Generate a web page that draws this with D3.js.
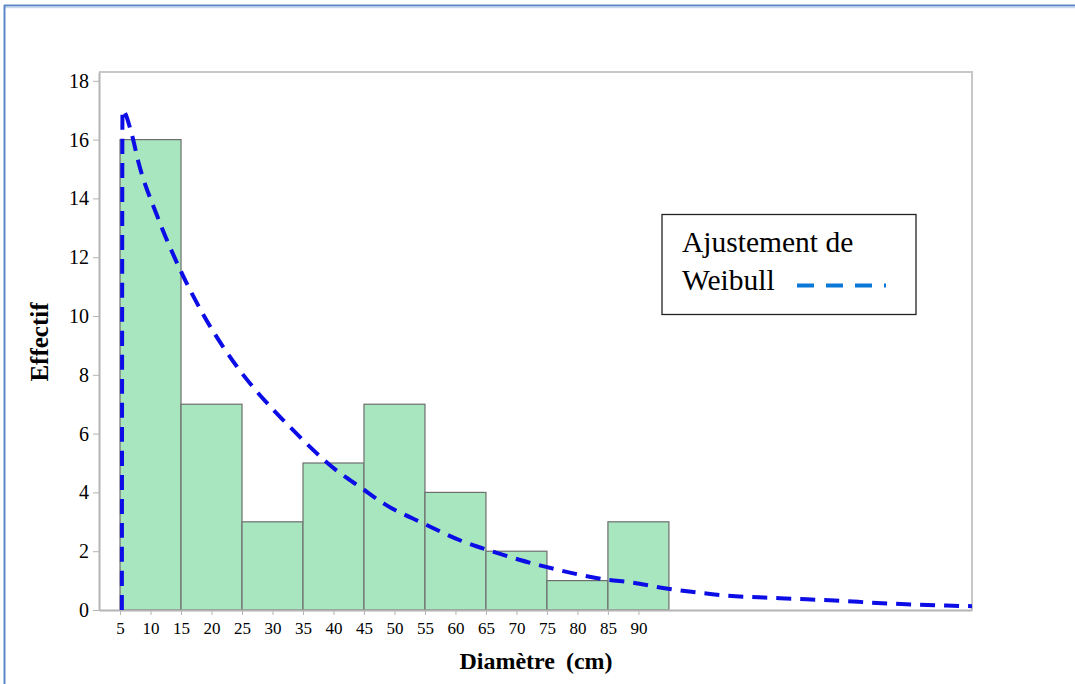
<!DOCTYPE html>
<html>
<head>
<meta charset="utf-8">
<script src="https://cdn.jsdelivr.net/npm/d3@7"></script>
<style>
  body { margin: 0; background: #fff; }
  svg { display: block; }
  svg text { font-family: "Liberation Serif", "Times New Roman", serif; }
</style>
</head>
<body>
<svg width="1075" height="684"></svg>
<script>
// histogram bins (diameter classes, cm) and counts
const binStarts = [5, 15, 25, 35, 45, 55, 65, 75, 85];
const binWidth = 10;
const counts = [16, 7, 3, 5, 7, 4, 2, 1, 3];

// Weibull fit curve
const weibullX = [5.3, 5.4, 6.9, 8.0, 11.1, 14.8, 19.2, 24.1, 30.4, 31.8, 40.8, 44.6, 48.4, 54.7, 61.6, 65.9, 70.6, 75.2, 79.9, 84.5, 89.1, 94.0, 98.7, 103.9, 113.2, 121.4, 131.2, 140.5, 144.7];
const weibullY = [0, 17.0, 16.2, 15.25, 13.4, 11.6, 9.85, 8.3, 6.75, 6.45, 4.7, 4.15, 3.6, 2.95, 2.3, 2.0, 1.7, 1.45, 1.22, 1.04, 0.93, 0.75, 0.62, 0.5, 0.4, 0.33, 0.22, 0.15, 0.13];

const xTicks = d3.range(5, 95, 5);
const yTicks = d3.range(0, 20, 2);

const serif = "'Liberation Serif', 'Times New Roman', serif";
const svg = d3.select("svg");

// outer frame (blue)
svg.append("line").attr("x1", 4).attr("x2", 1075).attr("y1", 5.5).attr("y2", 5.5)
    .attr("stroke", "#5b87c8").attr("stroke-width", 2);
svg.append("line").attr("x1", 4).attr("x2", 1075).attr("y1", 7.5).attr("y2", 7.5)
    .attr("stroke", "#c9d8ee").attr("stroke-width", 1.5);
svg.append("line").attr("x1", 4.5).attr("x2", 4.5).attr("y1", 5).attr("y2", 684)
    .attr("stroke", "#5b87c8").attr("stroke-width", 2);

const plotLeft = 99, plotRight = 972, plotTop = 72, plotBottom = 610;

const x = d3.scaleLinear().domain([1.55, 144.7]).range([plotLeft, plotRight]);
const y = d3.scaleLinear().domain([0, 18.3]).range([plotBottom, plotTop]);

// plot frame (top and right)
svg.append("path")
    .attr("d", `M${plotLeft},${plotTop}H${plotRight}V${plotBottom}`)
    .attr("fill", "none").attr("stroke", "#c8c8c8").attr("stroke-width", 2);

// bars
svg.selectAll(".bar")
    .data(counts)
    .enter().append("rect")
    .attr("class", "bar")
    .attr("x", (d, i) => x(binStarts[i]))
    .attr("width", (d, i) => x(binStarts[i] + binWidth) - x(binStarts[i]))
    .attr("y", d => y(d))
    .attr("height", d => plotBottom - y(d))
    .attr("fill", "#a8e6bf")
    .attr("stroke", "#6e6e6e")
    .attr("stroke-width", 1.2);

// axes
const xAxis = svg.append("g")
    .attr("transform", `translate(0,${plotBottom})`)
    .call(d3.axisBottom(x).tickValues(xTicks).tickSize(5).tickPadding(7).tickSizeOuter(0));
const yAxis = svg.append("g")
    .attr("transform", `translate(${plotLeft},0)`)
    .call(d3.axisLeft(y).tickValues(yTicks).tickSize(6).tickPadding(4).tickSizeOuter(0));

[xAxis, yAxis].forEach(g => {
    g.attr("font-family", serif);
    g.select(".domain").attr("stroke", "#b4b4b4").attr("stroke-width", 2);
    g.selectAll(".tick line").attr("stroke", "#b4b4b4");
    g.selectAll(".tick text").attr("fill", "#000").attr("font-family", serif);
});
xAxis.selectAll(".tick text").attr("font-size", 17);
yAxis.selectAll(".tick text").attr("font-size", 20);

// Weibull curve
const pts = weibullX.map((v, i) => [v, weibullY[i]]);
const line = d3.line()
    .x(d => x(d[0]))
    .y(d => y(d[1]))
    .curve(d3.curveMonotoneX);

svg.append("path")
    .datum(pts)
    .attr("d", line)
    .attr("fill", "none")
    .attr("stroke", "#0c0ce6")
    .attr("stroke-width", 4)
    .attr("stroke-dasharray", "15,9");

// axis titles
svg.append("text")
    .attr("x", 536).attr("y", 669)
    .attr("text-anchor", "middle")
    .attr("font-family", serif)
    .attr("font-size", 24).attr("font-weight", "bold")
    .attr("word-spacing", 5)
    .text("Diamètre (cm)");

svg.append("text")
    .attr("transform", "translate(48,342) rotate(-90)")
    .attr("text-anchor", "middle")
    .attr("font-family", serif)
    .attr("font-size", 25).attr("font-weight", "bold")
    .text("Effectif");

// legend
const legend = svg.append("g").attr("font-family", serif);
legend.append("rect")
    .attr("x", 662).attr("y", 214.5).attr("width", 254).attr("height", 100)
    .attr("fill", "#fff").attr("stroke", "#222").attr("stroke-width", 1.3);
legend.append("text").attr("x", 682).attr("y", 252).attr("font-size", 29.5).text("Ajustement de");
legend.append("text").attr("x", 682).attr("y", 290).attr("font-size", 29.5).text("Weibull");
legend.append("line")
    .attr("x1", 797).attr("x2", 886).attr("y1", 285.5).attr("y2", 285.5)
    .attr("stroke", "#0a78d6").attr("stroke-width", 4)
    .attr("stroke-dasharray", "17,12");
</script>
</body>
</html>
